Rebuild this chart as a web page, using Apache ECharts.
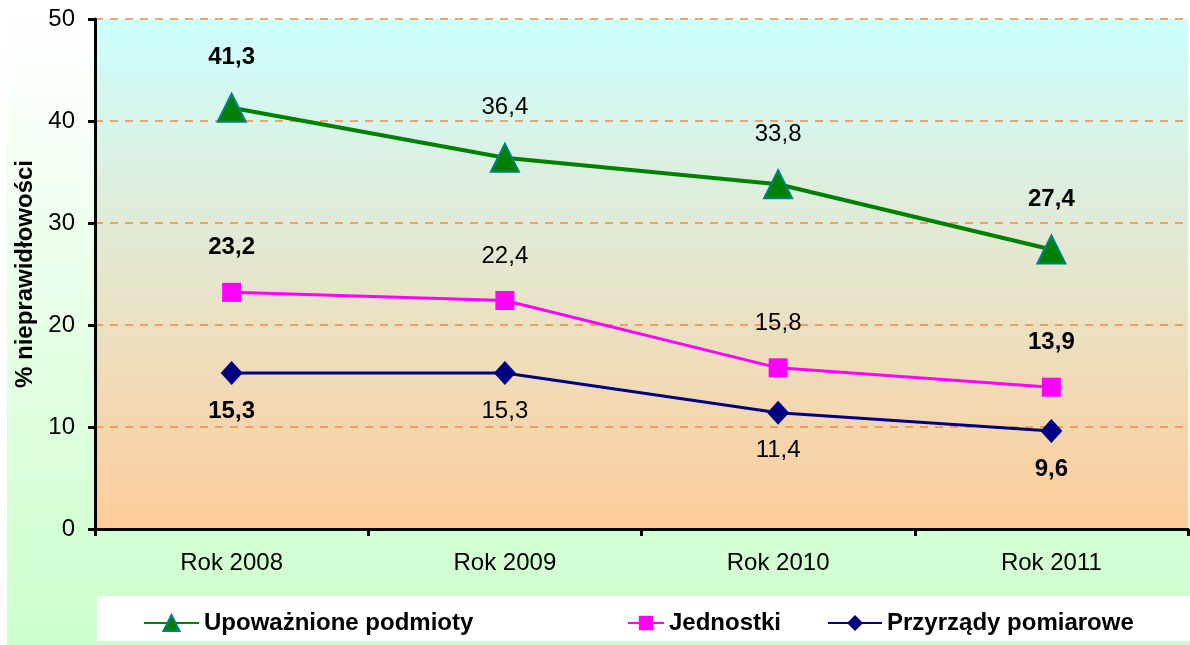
<!DOCTYPE html>
<html>
<head>
<meta charset="utf-8">
<script src="https://cdn.jsdelivr.net/npm/echarts@6/dist/echarts.min.js"></script>
<style>
  html, body { margin: 0; padding: 0; background: #fff; }
  #chart { width: 1190px; height: 645px; }
</style>
</head>
<body>
<div id="chart"></div>
<script>
var categories = ["Rok 2008", "Rok 2009", "Rok 2010", "Rok 2011"];
var upowaznione = [41.3, 36.4, 33.8, 27.4];
var jednostki = [23.2, 22.4, 15.8, 13.9];
var przyrzady = [15.3, 15.3, 11.4, 9.6];
var seriesNames = ["Upoważnione podmioty", "Jednostki", "Przyrządy pomiarowe"];
var yTicks = [0, 10, 20, 30, 40, 50];

var font = "'Liberation Sans', Arial, sans-serif";

// pierwsza i ostatnia etykieta pogrubiona
function withLabels(values) {
  return values.map(function (v, i) {
    var edge = i === 0 || i === values.length - 1;
    return { value: v, label: { fontWeight: edge ? "bold" : "normal" } };
  });
}

function fmt(p) {
  return p.value.toFixed(1).replace(".", ",");
}

var chart = echarts.init(document.getElementById("chart"));

var labelBase = {
  show: true,
  formatter: fmt,
  color: "#000",
  fontFamily: font,
  fontSize: 24
};

var legendText = { fontFamily: font, fontSize: 24, fontWeight: "bold", color: "#000" };

var option = {
  backgroundColor: "#fff",
  animation: false,
  graphic: [
    {
      type: "rect",
      z: -100,
      shape: { x: 7, y: 0, width: 1183, height: 645 },
      style: {
        fill: new echarts.graphic.LinearGradient(0, 0, 0, 1, [
          { offset: 0, color: "#ffffff" },
          { offset: 0.1, color: "#fbfffb" },
          { offset: 1, color: "#ccffcc" }
        ])
      }
    },
    {
      type: "rect",
      z: -90,
      shape: { x: 97, y: 596, width: 1093, height: 45 },
      style: { fill: "#ffffff" }
    }
  ],
  grid: {
    left: 95,
    right: 2,
    top: 19,
    bottom: 116,
    show: true,
    borderWidth: 0,
    backgroundColor: new echarts.graphic.LinearGradient(0, 0, 0, 1, [
      { offset: 0, color: "#ccffff" },
      { offset: 1, color: "#ffcc99" }
    ])
  },
  legend: [
    {
      data: [seriesNames[0]],
      left: 138, top: 606,
      itemWidth: 55, itemHeight: 20,
      textStyle: legendText
    },
    {
      data: [seriesNames[1]],
      left: 622, top: 606,
      itemWidth: 36, itemHeight: 18,
      textStyle: legendText
    },
    {
      data: [seriesNames[2]],
      left: 822, top: 606,
      itemWidth: 54, itemHeight: 20,
      textStyle: legendText
    }
  ],
  xAxis: {
    type: "category",
    data: categories,
    boundaryGap: true,
    axisLine: { lineStyle: { color: "#000", width: 3 } },
    axisTick: { show: true, length: 7, lineStyle: { color: "#000", width: 3 } },
    axisLabel: { color: "#000", fontFamily: font, fontSize: 24, margin: 22 }
  },
  yAxis: {
    type: "value",
    min: yTicks[0],
    max: yTicks[yTicks.length - 1],
    interval: 10,
    name: "% nieprawidłowości",
    nameLocation: "middle",
    nameGap: 42,
    nameTextStyle: { color: "#000", fontFamily: font, fontSize: 24, fontWeight: "bold" },
    axisLine: { show: true, lineStyle: { color: "#000", width: 3 } },
    axisTick: { show: true, length: 7, lineStyle: { color: "#000", width: 3 } },
    axisLabel: { color: "#000", fontFamily: font, fontSize: 24, margin: 20 },
    splitLine: {
      show: true,
      lineStyle: { color: "#f08a40", width: 1.5, type: [8, 7] }
    }
  },
  series: [
    {
      name: seriesNames[0],
      type: "line",
      data: withLabels(upowaznione),
      symbol: "triangle",
      symbolSize: 28,
      lineStyle: { color: "#008000", width: 4 },
      itemStyle: { color: "#008000", borderColor: "#008080", borderWidth: 2 },
      label: Object.assign({}, labelBase, { position: "top", distance: 23 }),
      z: 4
    },
    {
      name: seriesNames[1],
      type: "line",
      data: withLabels(jednostki),
      symbol: "rect",
      symbolSize: 19,
      lineStyle: { color: "#ff00ff", width: 3 },
      itemStyle: { color: "#ff00ff", borderColor: "#ff00ff", borderWidth: 0 },
      label: Object.assign({}, labelBase, { position: "top", distance: 23 }),
      z: 3
    },
    {
      name: seriesNames[2],
      type: "line",
      data: withLabels(przyrzady),
      symbol: "diamond",
      symbolSize: [22, 24],
      lineStyle: { color: "#000080", width: 3 },
      itemStyle: { color: "#000080", borderColor: "#000080", borderWidth: 0 },
      label: Object.assign({}, labelBase, { position: "bottom", distance: 14 }),
      z: 3
    }
  ]
};

chart.setOption(option);
window.addEventListener("resize", function () {
  chart.resize();
});
</script>
</body>
</html>
